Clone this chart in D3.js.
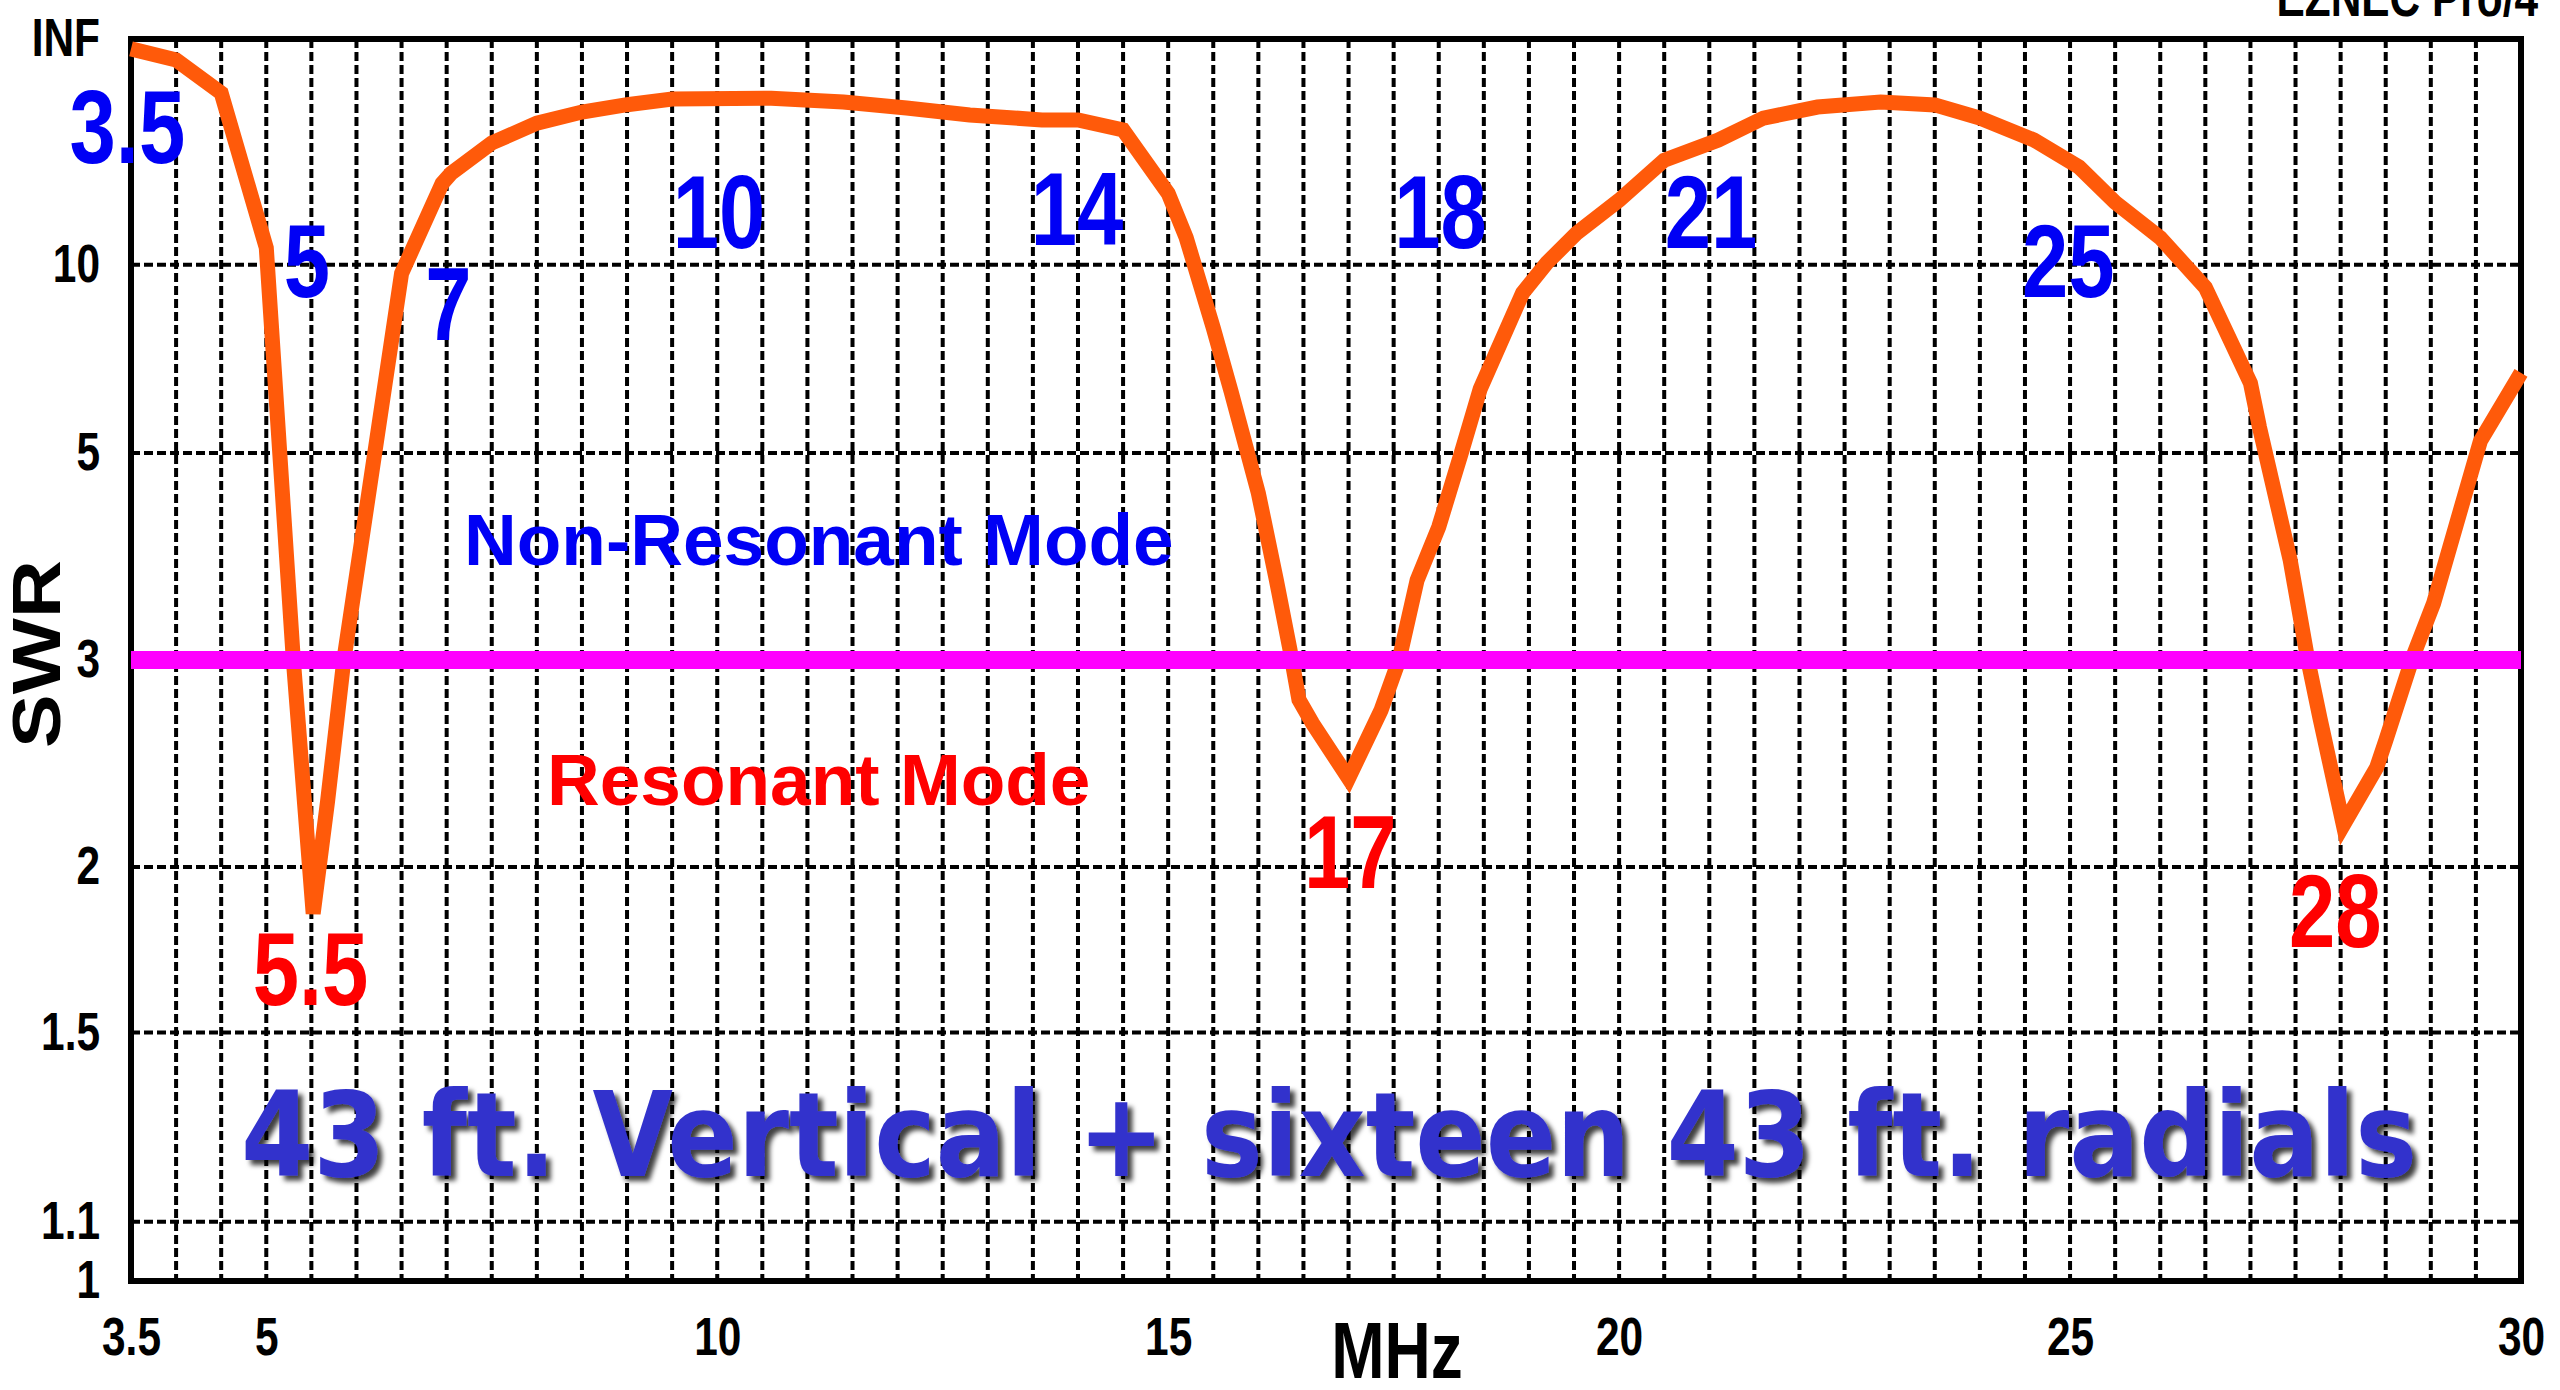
<!DOCTYPE html>
<html>
<head>
<meta charset="utf-8">
<script src="https://cdn.jsdelivr.net/npm/d3@7"></script>
<style>
  body { margin: 0; background: #fff; }
  svg { display: block; background: #fff; }
</style>
</head>
<body>
<script>
'use strict';

// sweep: frequency in MHz and SWR
const freqs = [3.5, 4.0, 4.5, 5.0, 5.3, 5.52, 5.68, 5.86, 6.5,
  6.95, 7.05, 7.5, 8.0, 8.5, 9.0, 9.5, 10.6, 11.4, 12.1, 12.8, 13.6, 14.0, 14.5,
  15.0, 15.2, 15.5, 15.7, 16.0, 16.2, 16.35, 16.45, 16.6, 17.0, 17.36, 17.56,
  17.76, 18.0, 18.25, 18.46, 18.93, 19.2, 19.53, 20.0, 20.5, 21.1, 21.6, 22.2,
  22.9, 23.5, 24.0, 24.6, 25.1, 25.5, 26.0, 26.5, 27.0, 27.1, 27.44, 27.63, 27.77,
  28.03, 28.4, 28.5, 28.8, 29.03, 29.55, 30.0];
const swrValues = [250, 117, 45, 10.9, 3.0, 1.84, 2.26, 3.0, 9.6,
  16.2, 17.5, 22.9, 28.5, 33, 36.8, 40.4, 41, 38.4, 35, 31.7, 29.7, 29.7, 26.3,
  15.1, 11.5, 7.6, 6.03, 4.47, 3.59, 3.07, 2.76, 2.63, 2.36, 2.70, 3.0,
  3.59, 4.09, 5.0, 6.1, 8.78, 10.1, 11.8, 14.4, 19.5, 23.6, 30.4, 35.5,
  38.4, 36.7, 30.4, 23.6, 18.4, 14.2, 11.5, 9.0, 6.22, 5.4, 3.77, 3.02, 2.66,
  2.16, 2.41, 2.54, 3.02, 3.4, 5.18, 6.44];

// axis ticks
const xTickValues = [3.5, 5, 10, 15, 20, 25, 30];
const yTickValues = [1, 1.1, 1.5, 2, 3, 5, 10, Infinity];
const yTickLabels = ['1', '1.1', '1.5', '2', '3', '5', '10', 'INF'];
const gridSwr = [1.1, 1.5, 2, 3, 5, 10];
const thresholdSwr = 3;

// annotations
const nonResonantBands = ['3.5', '5', '7', '10', '14', '18', '21', '25'];
const resonantBands = ['5.5', '17', '28'];
const titleText = '43 ft. Vertical + sixteen 43 ft. radials';

(function() {

  let svgContainer = ""; // keep SVG reference in global scope
  const sans = '"Liberation Sans", Arial, sans-serif';
  const squeeze = 0.8; // no narrow font installed, so squeeze Liberation Sans
  const plot = { left: 131, right: 2521, top: 39, bottom: 1281 };

  window.onload = function() {
    svgContainer = d3.select('body')
      .append('svg')
      .attr('width', 2560)
      .attr('height', 1390);

    let scales = drawTicks();
    drawGrid(scales);
    plotData(scales);
    makeLabels(scales);
  }

  // EZNEC plots SWR on a reflection coefficient scale
  function reflection(swr) {
    return swr === Infinity ? 1 : (swr - 1) / (swr + 1);
  }

  // narrow bold text placed at x, y
  function narrowText(x, y, size) {
    return svgContainer.append('text')
      .attr('transform', 'translate(' + x + ',' + y + ')scale(' + squeeze + ',1)')
      .style('font-family', sans)
      .style('font-size', size + 'px')
      .style('font-weight', 'bold');
  }

  // draw the axes and tick labels
  function drawTicks() {
    let xScale = d3.scaleLinear()
      .domain([3.5, 30])
      .range([plot.left, plot.right]);

    let yScale = d3.scaleLinear()
      .domain([0, 1])
      .range([plot.bottom, plot.top]);

    let xAxis = d3.axisBottom(xScale)
      .tickValues(xTickValues)
      .tickSize(0)
      .tickPadding(36)
      .tickFormat(d3.format('~g'));

    svgContainer.append('g')
      .attr('transform', 'translate(0, ' + plot.bottom + ')')
      .call(xAxis)
      .call(g => g.select('.domain').remove())
      .selectAll('text')
        .attr('transform', 'scale(' + squeeze + ',1)')
        .style('font-family', sans)
        .style('font-size', '53px')
        .style('font-weight', 'bold')
        .attr('fill', '#000');

    let yAxis = d3.axisLeft(yScale)
      .tickValues(yTickValues.map(reflection))
      .tickSize(0)
      .tickPadding(31)
      .tickFormat((d, i) => yTickLabels[i]);

    svgContainer.append('g')
      .attr('transform', 'translate(' + plot.left + ', 0)')
      .call(yAxis)
      .call(g => g.select('.domain').remove())
      .selectAll('text')
        .attr('x', -31 / squeeze)
        .attr('transform', 'scale(' + squeeze + ',1)')
        .style('font-family', sans)
        .style('font-size', '53px')
        .style('font-weight', 'bold')
        .attr('fill', '#000');

    return { x: xScale, y: yScale };
  }

  // dashed grid every 0.5 MHz and at the marked SWR values, then the frame
  function drawGrid(scales) {
    let grid = svgContainer.append('g')
      .attr('stroke', '#000')
      .attr('stroke-width', 4)
      .attr('stroke-dasharray', '9,4');

    grid.selectAll('.vgrid')
      .data(d3.range(4, 30, 0.5))
      .enter()
      .append('line')
        .attr('x1', d => scales.x(d))
        .attr('x2', d => scales.x(d))
        .attr('y1', plot.top)
        .attr('y2', plot.bottom);

    grid.selectAll('.hgrid')
      .data(gridSwr)
      .enter()
      .append('line')
        .attr('x1', plot.left)
        .attr('x2', plot.right)
        .attr('y1', d => scales.y(reflection(d)))
        .attr('y2', d => scales.y(reflection(d)));

    svgContainer.append('rect')
      .attr('x', plot.left)
      .attr('y', plot.top)
      .attr('width', plot.right - plot.left)
      .attr('height', plot.bottom - plot.top)
      .attr('fill', 'none')
      .attr('stroke', '#000')
      .attr('stroke-width', 6);
  }

  // SWR curve and the SWR 3 threshold
  function plotData(scales) {
    let points = freqs.map((f, i) => [f, swrValues[i]]);

    let line = d3.line()
      .x(d => scales.x(d[0]))
      .y(d => scales.y(reflection(d[1])));

    svgContainer.append('path')
      .datum(points)
      .attr('d', line)
      .attr('fill', 'none')
      .attr('stroke', '#ff5a0a')
      .attr('stroke-width', 15)
      .attr('stroke-linejoin', 'miter');

    svgContainer.append('line')
      .attr('x1', plot.left)
      .attr('x2', plot.right)
      .attr('y1', scales.y(reflection(thresholdSwr)))
      .attr('y2', scales.y(reflection(thresholdSwr)))
      .attr('stroke', '#ff00ff')
      .attr('stroke-width', 18);
  }

  // band numbers, mode captions, axis titles and the big title
  function makeLabels(scales) {
    // label anchors in MHz / SWR (center, baseline)
    let blueAt = [[3.46, 19.0], [5.45, 8.63], [7.02, 7.25], [10.02, 10.9],
      [13.99, 11.06], [18.02, 10.9], [21.02, 10.9], [24.98, 8.63]];
    let redAt = [[5.49, 1.571], [17.02, 1.926], [27.94, 1.736]];

    nonResonantBands.forEach((band, i) => {
      narrowText(scales.x(blueAt[i][0]), scales.y(reflection(blueAt[i][1])), 104)
        .attr('text-anchor', 'middle')
        .attr('fill', '#0000f5')
        .text(band);
    });

    resonantBands.forEach((band, i) => {
      narrowText(scales.x(redAt[i][0]), scales.y(reflection(redAt[i][1])), 104)
        .attr('text-anchor', 'middle')
        .attr('fill', '#ff0000')
        .text(band);
    });

    svgContainer.append('text')
      .attr('x', 464)
      .attr('y', 565)
      .attr('fill', '#0000f5')
      .style('font-family', sans)
      .style('font-size', '73px')
      .style('font-weight', 'bold')
      .text('Non-Resonant Mode');

    svgContainer.append('text')
      .attr('x', 547)
      .attr('y', 805)
      .attr('fill', '#ff0000')
      .style('font-family', sans)
      .style('font-size', '73px')
      .style('font-weight', 'bold')
      .text('Resonant Mode');

    svgContainer.append('text')
      .attr('transform', 'translate(60, 654)rotate(-90)')
      .attr('text-anchor', 'middle')
      .attr('textLength', 188)
      .attr('lengthAdjust', 'spacingAndGlyphs')
      .style('font-family', sans)
      .style('font-size', '68px')
      .style('font-weight', 'bold')
      .text('SWR');

    narrowText(1397, 1378, 80)
      .attr('text-anchor', 'middle')
      .text('MHz');

    narrowText(2538, 16, 53)
      .attr('text-anchor', 'end')
      .text('EZNEC Pro/4');

    // title with a soft drop shadow
    let defs = svgContainer.append('defs');
    defs.append('filter')
      .attr('id', 'shadow')
      .attr('x', '-5%').attr('y', '-20%')
      .attr('width', '110%').attr('height', '140%')
      .append('feDropShadow')
        .attr('dx', 5)
        .attr('dy', 5)
        .attr('stdDeviation', 2.5)
        .attr('flood-color', '#000')
        .attr('flood-opacity', 0.75);

    svgContainer.append('text')
      .attr('x', 241)
      .attr('y', 1176)
      .attr('textLength', 2176)
      .attr('lengthAdjust', 'spacingAndGlyphs')
      .attr('fill', '#3333cc')
      .attr('filter', 'url(#shadow)')
      .style('font-family', '"DejaVu Sans", Verdana, sans-serif')
      .style('font-size', '118px')
      .style('font-weight', 'bold')
      .text(titleText);
  }

})();
</script>
</body>
</html>
